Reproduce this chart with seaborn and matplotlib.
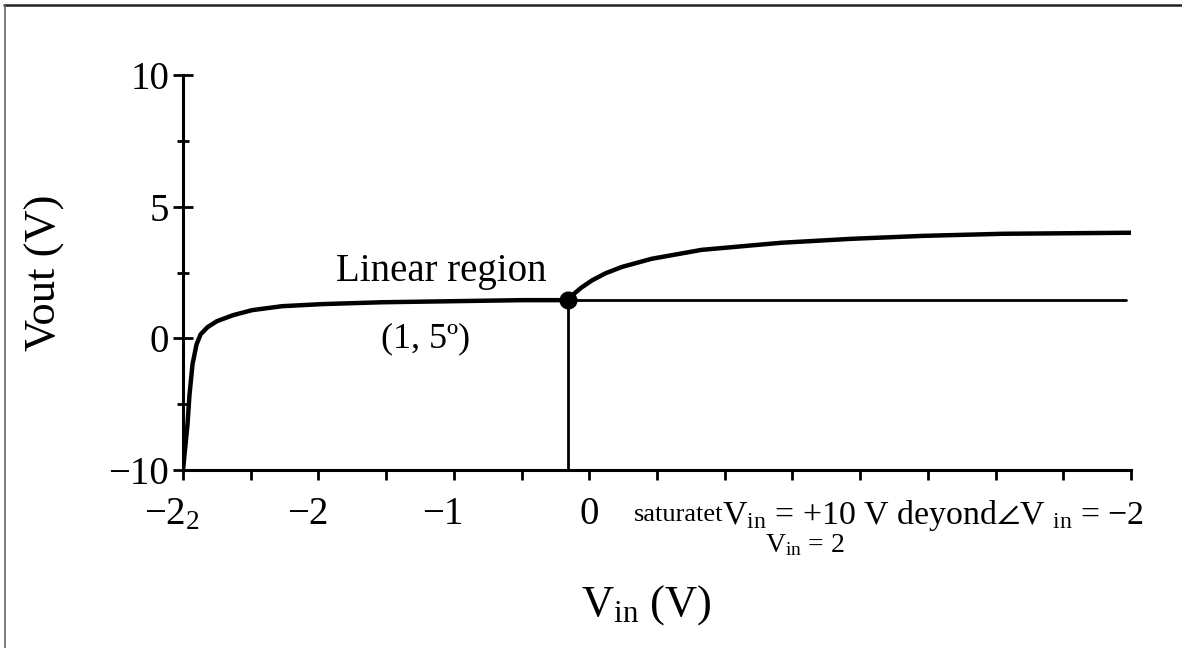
import numpy as np
import pandas as pd
import matplotlib
matplotlib.use("Agg")
import matplotlib.pyplot as plt
from matplotlib.lines import Line2D
from matplotlib.transforms import ScaledTranslation, blended_transform_factory
import seaborn as sns

# ---- data ----
curve_x = [-3.0, -2.967, -2.952, -2.93, -2.90, -2.87, -2.82, -2.75, -2.63, -2.49,
           -2.27, -1.97, -1.53, -1.01, -0.49, -0.16, -0.12, -0.06, 0.02, 0.12,
           0.24, 0.46, 0.83, 1.42, 1.94, 2.46, 3.05, 4.0]
curve_y = [-5.0, -3.28, -2.14, -0.99, -0.23, 0.15, 0.42, 0.65, 0.88, 1.07,
           1.22, 1.30, 1.37, 1.41, 1.45, 1.45, 1.66, 1.92, 2.20, 2.47,
           2.71, 3.02, 3.36, 3.63, 3.78, 3.89, 3.97, 4.01]
hline_x = [-0.16, 3.96]
hline_y = [1.45, 1.45]
vline_x = [-0.16, -0.16]
vline_y = [-5.0, 1.45]
point_x = [-0.16]
point_y = [1.45]

xtick_pos = [-3, -2, -1, 0]
xtick_labels = ["−2$_2$", "−2", "−1", "0"]
xtick_minor = list(np.arange(-3, 4.01, 0.5))
ytick_pos = [-5, 0, 5, 10]
ytick_labels = ["−10", "0", "5", "10"]
ytick_minor = [-2.5, 2.5, 7.5]

label_linear = "Linear region"
label_point = "(1, 5º)"
label_sat1 = "saturatet"
label_sat2 = r"V$_{\mathrm{in}}$ = +10 V deyond$\angle$V $_{\mathrm{in}}$ = −2"
label_sat3 = r"V$_{\mathrm{in}}$ = 2"
xlabel = r"V$_{\mathrm{in}}$ (V)"
ylabel = "Vout (V)"

# ---- style ----
sns.set_theme(style="white")
plt.rcParams["font.family"] = ["Liberation Serif", "DejaVu Serif"]
plt.rcParams["mathtext.fontset"] = "custom"
plt.rcParams["mathtext.rm"] = "Liberation Serif"
plt.rcParams["mathtext.it"] = "Liberation Serif:italic"
plt.rcParams["mathtext.bf"] = "Liberation Serif:bold"
plt.rcParams["mathtext.fallback"] = "stix"
plt.rcParams["text.color"] = "black"
plt.rcParams["axes.labelcolor"] = "black"
plt.rcParams["xtick.color"] = "black"
plt.rcParams["ytick.color"] = "black"

fig = plt.figure(figsize=(11.82, 6.48), dpi=100)
fig.patch.set_facecolor("white")
ax = fig.add_axes([183 / 1182, 178 / 648, 948 / 1182, 395 / 648])

df = pd.DataFrame({"x": curve_x, "y": curve_y})
sns.lineplot(data=df, x="x", y="y", ax=ax, color="black", linewidth=3.2,
             sort=False, estimator=None)
ax.plot(hline_x, hline_y, color="black", linewidth=2.0, solid_capstyle="round")
ax.plot(vline_x, vline_y, color="black", linewidth=2.0)
ax.plot(point_x, point_y, "o", color="black", markersize=12)

ax.set_xlim(-3, 4)
ax.set_ylim(-5, 10)

for s in ["top", "right"]:
    ax.spines[s].set_visible(False)
for s in ["left", "bottom"]:
    ax.spines[s].set_linewidth(2.2)
    ax.spines[s].set_color("black")

ax.set_xticks(xtick_minor, minor=True)
ax.set_xticks(xtick_pos)
ax.set_xticklabels(xtick_labels)
ax.set_yticks(ytick_minor, minor=True)
ax.set_yticks(ytick_pos)
ax.set_yticklabels(ytick_labels)

ax.tick_params(axis="x", which="both", direction="out", length=7, width=2,
               color="black", bottom=True, labelsize=28, pad=12,
               labelcolor="black")
ax.tick_params(axis="y", which="major", direction="inout", length=14, width=2,
               color="black", left=True, labelsize=28, pad=3,
               labelcolor="black")
ax.tick_params(axis="y", which="minor", direction="inout", length=9, width=2,
               color="black", left=True)

# shift negative x tick labels so the digit sits under the tick
for lab, pos in zip(ax.get_xticklabels(), xtick_pos):
    if pos < 0:
        lab.set_transform(lab.get_transform() +
                          ScaledTranslation(-8 / 72, 0, fig.dpi_scale_trans))

ax.set_ylabel(ylabel, fontsize=32)
ax.yaxis.set_label_coords(-0.1456, 0.50)
ax.yaxis.label.set_va("center")
ax.set_xlabel(xlabel, fontsize=32)
ax.xaxis.set_label_coords(0.489, -0.342)
ax.xaxis.label.set_va("center")

ax.text(-1.09, 2.55, label_linear, fontsize=28, ha="center", va="center")
ax.text(-1.21, 0.0, label_point, fontsize=26, ha="center", va="center")

bt = blended_transform_factory(ax.transData, ax.transAxes)
ax.text(0.33, -0.114, label_sat1, fontsize=19, ha="left", va="center",
        transform=bt)
ax.text(4.10, -0.114, label_sat2, fontsize=24.4, ha="right", va="center",
        transform=bt)
ax.text(1.30, -0.19, label_sat3, fontsize=20, ha="left", va="center",
        transform=bt)

# frame lines of the original picture (top and left)
fig.add_artist(Line2D([4 / 1182, 1.0], [1 - 5 / 648, 1 - 5 / 648],
                      transform=fig.transFigure, color="#222222", linewidth=1.8))
fig.add_artist(Line2D([4.5 / 1182, 4.5 / 1182], [0, 1 - 5 / 648],
                      transform=fig.transFigure, color="#666666", linewidth=1.2))

fig.savefig("out.png", dpi=100, facecolor="white")
